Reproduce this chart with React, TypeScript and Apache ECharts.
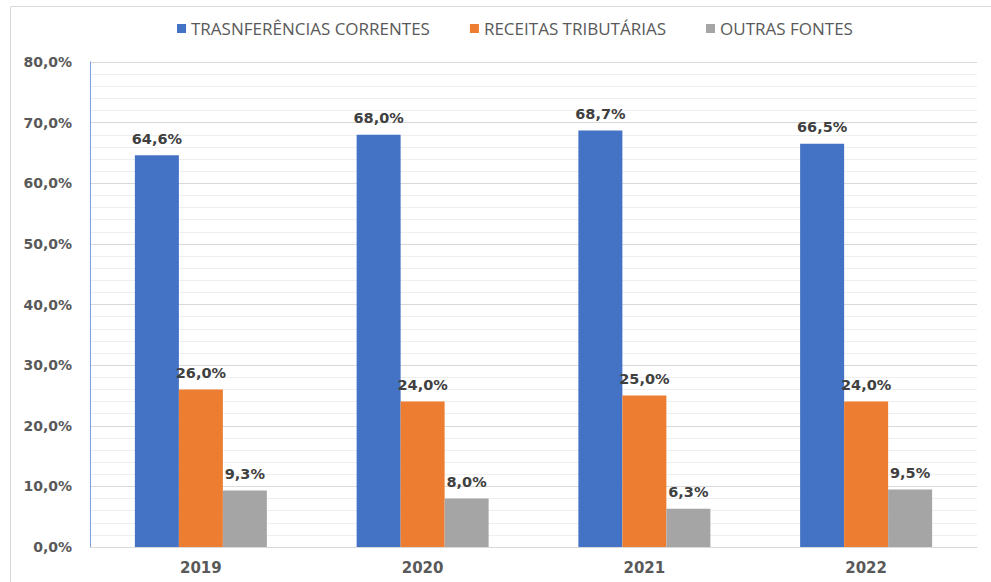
import React, { useEffect, useRef } from "react";
import * as echarts from "echarts";

const categories = ["2019", "2020", "2021", "2022"];
const transferencias = [64.6, 68.0, 68.7, 66.5];
const receitas = [26.0, 24.0, 25.0, 24.0];
const outras = [9.3, 8.0, 6.3, 9.5];
const seriesNames = ["TRASNFERÊNCIAS CORRENTES", "RECEITAS TRIBUTÁRIAS", "OUTRAS FONTES"];
const colors = ["#4472c4", "#ed7d31", "#a5a5a5"];

const fmt = (v: number) => v.toFixed(1).replace(".", ",") + "%";

export default function App() {
  const ref = useRef<HTMLDivElement>(null);
  useEffect(() => {
    if (!ref.current) return;
    const chart = echarts.init(ref.current, null, { renderer: "svg" });
    const font = "'DejaVu Sans', Verdana, sans-serif";
    const label = {
      show: true,
      position: "top" as const,
      distance: 9,
      fontFamily: font,
      fontWeight: "bold" as const,
      fontSize: 14.5,
      color: "#404040",
      formatter: (p: any) => fmt(p.value),
    };
    const data = [transferencias, receitas, outras];
    chart.setOption({
      animation: false,
      backgroundColor: "#ffffff",
      legend: {
        top: 15,
        left: 172,
        itemWidth: 9,
        itemHeight: 9,
        itemGap: 40,
        icon: "rect",
        textStyle: { fontFamily: "'Open Sans', sans-serif", fontSize: 17, color: "#595959", padding: [0, 0, 0, 0] },
        data: seriesNames,
      },
      grid: { left: 90, right: 14, top: 62, bottom: 35, containLabel: false },
      xAxis: {
        type: "category",
        data: categories,
        axisLine: { show: true, lineStyle: { color: "#d9d9d9", width: 1 } },
        axisTick: { show: false },
        axisLabel: { fontFamily: font, fontWeight: "bold", fontSize: 15, color: "#595959", margin: 13 },
      },
      yAxis: {
        type: "value",
        min: 0,
        max: 80,
        interval: 10,
        axisLine: { show: true, lineStyle: { color: "#7a9fe0", width: 1 } },
        axisTick: { show: false },
        axisLabel: {
          fontFamily: font,
          fontWeight: "bold",
          fontSize: 14,
          color: "#595959",
          margin: 18,
          formatter: (v: number) => fmt(v),
        },
        splitLine: { show: true, lineStyle: { color: "#d9d9d9", width: 1 } },
        minorTick: { show: false, splitNumber: 5 },
        minorSplitLine: { show: true, lineStyle: { color: "#efefef", width: 1 } },
      },
      series: seriesNames.map((name, i) => ({
        name,
        type: "bar",
        data: data[i],
        barWidth: 44,
        barGap: "0%",
        itemStyle: { color: colors[i] },
        label,
      })),
      graphic: [
        { type: "line", shape: { x1: 10.5, y1: 6.5, x2: 991, y2: 6.5 }, style: { stroke: "#d9d9d9", lineWidth: 1 } },
        { type: "line", shape: { x1: 10.5, y1: 6.5, x2: 10.5, y2: 582 }, style: { stroke: "#d9d9d9", lineWidth: 1 } },
      ],
    });
    return () => chart.dispose();
  }, []);
  return (
    <div
      ref={ref}
      style={{ position: "fixed", left: 0, top: 0, width: 991, height: 582, background: "#fff" }}
    />
  );
}
